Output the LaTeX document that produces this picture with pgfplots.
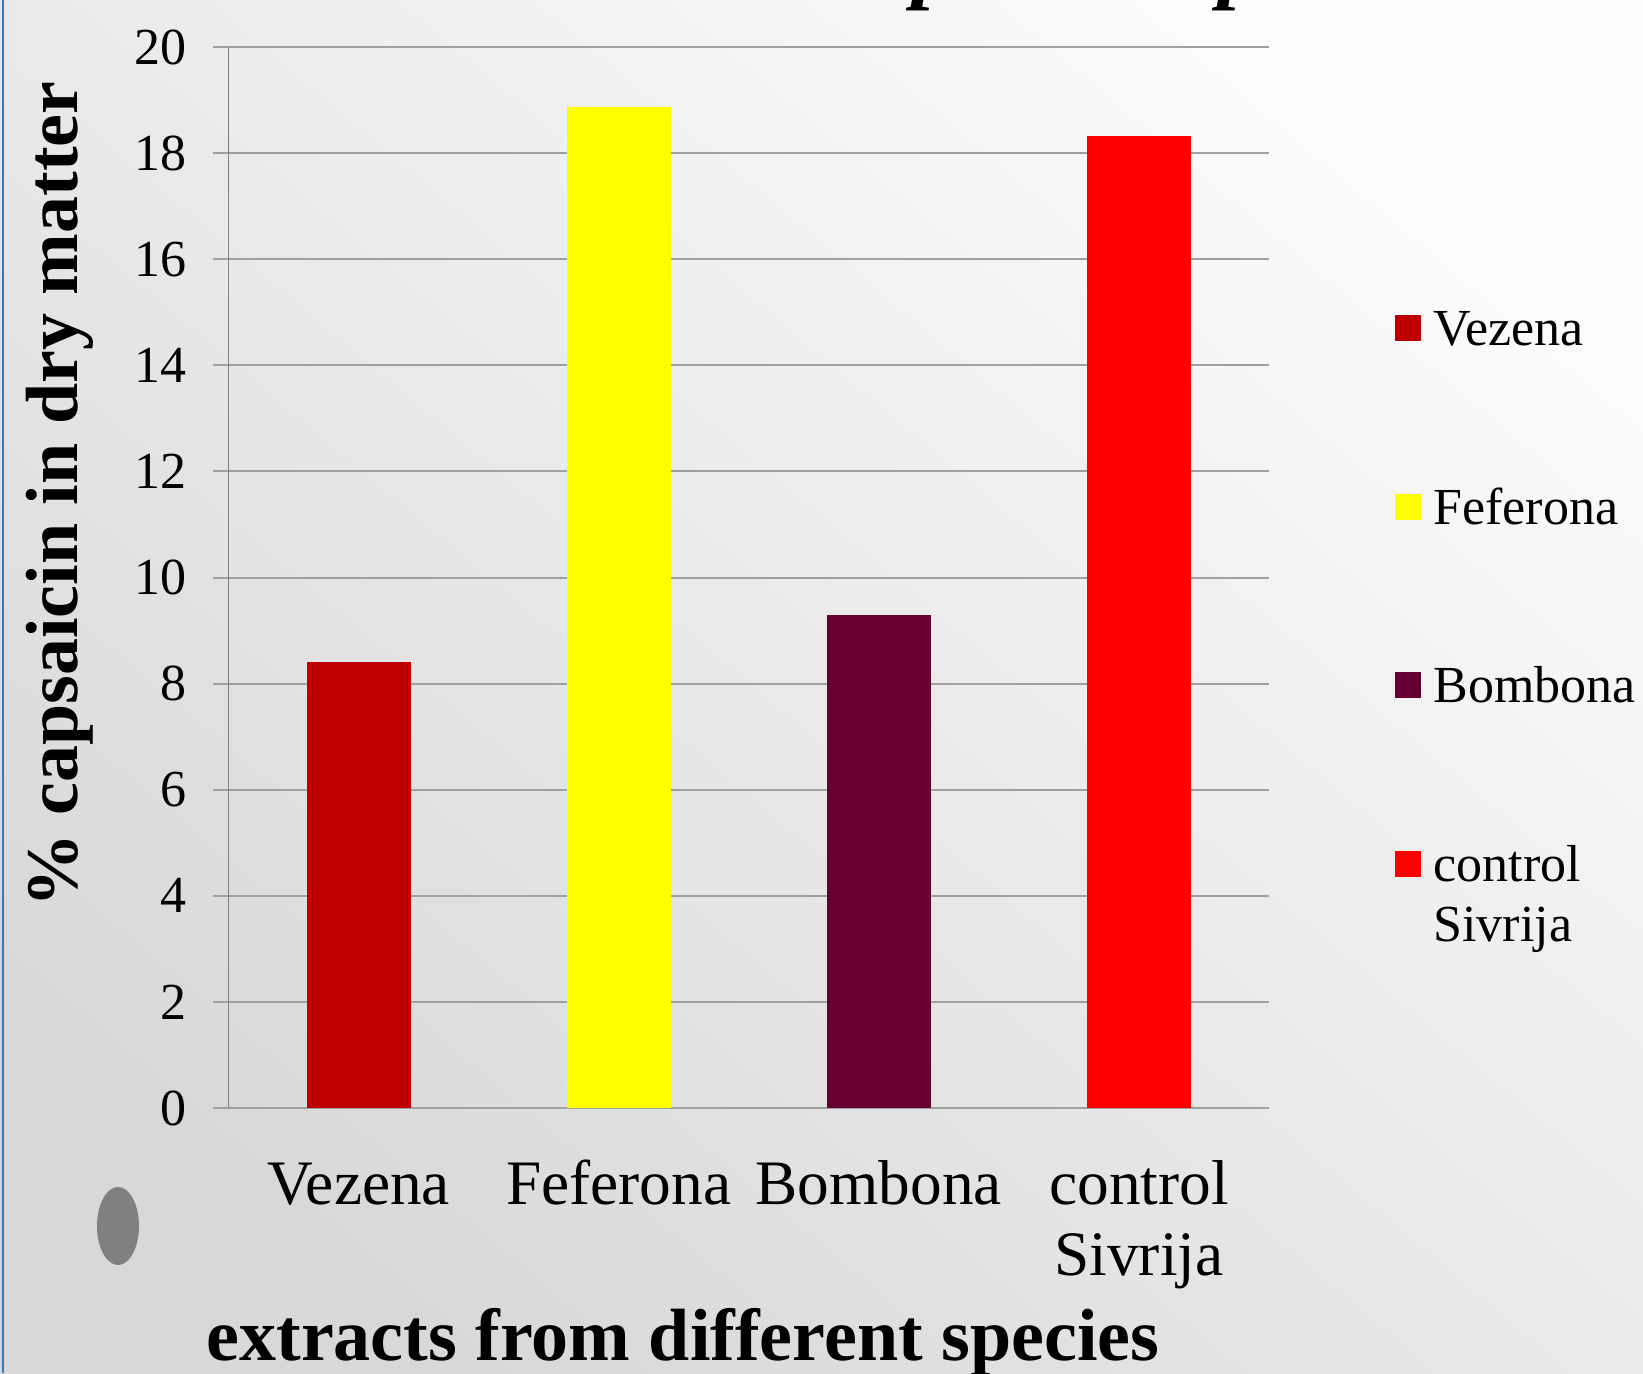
\documentclass[border=0pt]{standalone}
\usepackage{fontspec}
\setmainfont{Liberation Serif}
\usepackage{pgfplots}
\pgfplotsset{compat=1.18}
\definecolor{cVez}{HTML}{C00000}
\definecolor{cFef}{HTML}{FFFF00}
\definecolor{cBom}{HTML}{660033}
\definecolor{cCon}{HTML}{FF0000}
\definecolor{gridc}{HTML}{A0A0A0}
\definecolor{bgTop}{RGB}{251,251,251}
\definecolor{bgBot}{RGB}{216,216,216}
\definecolor{edgeblue}{RGB}{50,120,200}
\pgfplotsset{sq legend/.style={legend image code/.code={\fill[##1] (0pt,-2.7pt) rectangle (7.8pt,5.1pt);}}}
\begin{document}
\begin{tikzpicture}[x=0.3pt,y=0.3pt]
\useasboundingbox (0,0) rectangle (1643,1373);
\shade[top color=bgTop, bottom color=bgBot, shading angle=-40] (0,0) rectangle (1643,1373);
\draw[edgeblue, line width=0.6pt] (3,0) -- (3,1373);
\fill[gray] (118,147) ellipse [x radius=6.3pt, y radius=11.7pt];
\begin{scope}
\clip (0,0) rectangle (1643,1373);
\node[anchor=base west, inner sep=0pt, font=\fontsize{26}{26}\selectfont\bfseries\itshape] at (912,1380) {p};
\node[anchor=base west, inner sep=0pt, font=\fontsize{26}{26}\selectfont\bfseries\itshape] at (1218,1380) {p};
\end{scope}
\begin{axis}[
  at={(68.55pt,79.5pt)}, anchor=south west,
  scale only axis, width=312.15pt, height=318.3pt,
  xmin=-0.5, xmax=3.5, ymin=0, ymax=20,
  ytick={0,2,...,20},
  xtick={0,1,2,3},
  xticklabels={Vezena,Feferona,Bombona,{\begin{tabular}[t]{@{}c@{}}control\\Sivrija\end{tabular}}},
  ybar, bar width=0.4, bar shift=0pt,
  axis x line*=bottom, axis y line*=left,
  x axis line style={gridc, line width=0.6pt, -},
  y axis line style={gray, line width=0.3pt, -},
  ymajorgrids, major grid style={gridc, line width=0.6pt},
  tick align=outside, major tick length=4.5pt,
  ytick style={gridc, line width=0.6pt},
  xtick style={draw=none},
  /pgf/number format/assume math mode=true,
  yticklabel style={font=\fontsize{15.6}{18}\selectfont, anchor=east, inner sep=0pt, xshift=-7.8pt},
  xticklabel style={font=\fontsize{19}{21.4}\selectfont, anchor=base, yshift=-24.4pt},
  xlabel={extracts from different species},
  xlabel style={at={(axis description cs:0.4368,-0.2375)}, anchor=base, font=\fontsize{22.2}{26}\selectfont\bfseries},
  ylabel={\% capsaicin in dry matter},
  ylabel style={at={(axis description cs:-0.1456,0.578)}, anchor=base, font=\fontsize{22.2}{26}\selectfont\bfseries},
  legend style={draw=none, fill=none, at={(axis description cs:1.12,0.754)}, anchor=north west,
    font=\fontsize{15.6}{18}\selectfont, row sep=39.6pt, column sep=3.9pt, inner sep=0pt,
    nodes={inner sep=0pt, text height=11pt, text depth=3pt},
    cells={anchor=west}},
  legend cell align=left,
]
\addplot[fill=cVez, draw=none, sq legend] coordinates {(0,8.40)};
\addlegendentry{Vezena}
\addplot[fill=cFef, draw=none, sq legend] coordinates {(1,18.87)};
\addlegendentry{Feferona}
\addplot[fill=cBom, draw=none, sq legend] coordinates {(2,9.29)};
\addlegendentry{Bombona}
\addplot[fill=cCon, draw=none, sq legend] coordinates {(3,18.32)};
\addlegendentry{\begin{tabular}[t]{@{}l@{}}control\\Sivrija\end{tabular}}
\end{axis}
\end{tikzpicture}
\end{document}
